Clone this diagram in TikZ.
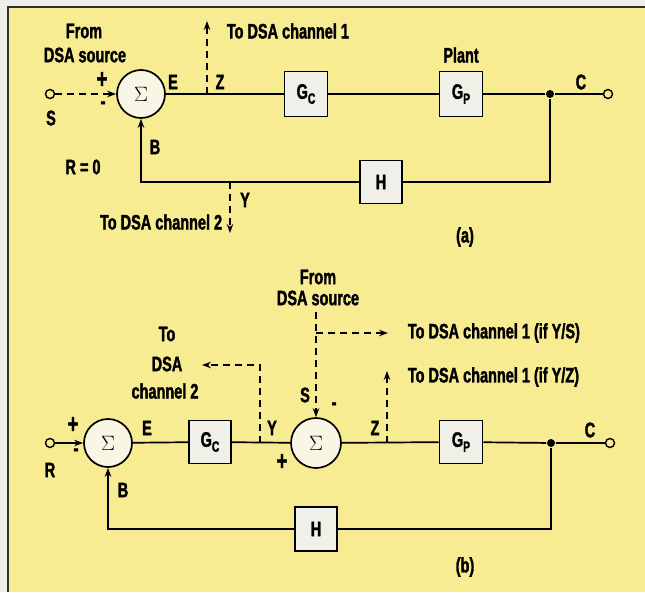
\documentclass[tikz,border=0pt]{standalone}
\usepackage{fontspec}
\setmainfont{Liberation Sans}[FakeStretch=0.69, BoldFeatures={FakeStretch=0.69, FakeBold=1.6}]
\usetikzlibrary{arrows.meta}
\definecolor{bgy}{RGB}{248,236,146}
\definecolor{paper}{RGB}{240,238,232}
\definecolor{boxf}{RGB}{240,240,232}
\definecolor{sumf}{RGB}{249,246,230}
\definecolor{frame}{RGB}{50,48,45}
\newcommand\subx[1]{\raisebox{-0.45ex}{\fontsize{15}{15}\selectfont #1}}
\newcommand\sig{{\fontsize{20}{20}\selectfont$\Sigma$}}
\newcommand\plus{{\fontsize{27}{27}\selectfont +}}
\begin{document}
\begin{tikzpicture}[x=1pt,y=-1pt,
  font=\fontsize{21}{21}\selectfont\bfseries,
  line width=1.7pt,
  sumnode/.style={circle, draw, fill=sumf, minimum size=48pt, inner sep=0pt},
  blk/.style={draw, fill=boxf, minimum width=43pt, minimum height=45pt, inner sep=0pt},
  term/.style={circle, draw, fill=bgy, minimum size=9pt, inner sep=0pt, line width=1.4pt},
  jdot/.style={circle, fill=black, minimum size=8pt, inner sep=0pt},
  lbl/.style={inner sep=0pt},
  dsh/.style={dash pattern=on 7pt off 5pt},
  arr/.style={-{Stealth[length=9pt,width=6.5pt]}}]
\useasboundingbox (0,0) rectangle (645,592);
\fill[paper] (0,0) rectangle (645,592);
\fill[bgy] (8,7) rectangle (645,592);
\draw[frame, line width=2pt] (8,592) -- (8,7) -- (645,7);

% ---------------- (a) ----------------
\node[term] (tS) at (50,94) {};
\node[sumnode] (sA) at (141,94) {\sig};
\node[blk] (GcA) at (306,94) {G\subx{C}};
\node[blk] (GpA) at (461,94) {G\subx{P}};
\node[jdot] (dA) at (550,94) {};
\node[term] (tC) at (608,94) {};
\node[blk, minimum width=42pt, minimum height=43pt] (HA) at (381,182) {H};
\coordinate (zA) at (207,94);
\coordinate (zAt) at (207,21);
\coordinate (yA) at (230,182);
\coordinate (yAt) at (230,233);

\draw[dsh,arr] (tS) -- (sA);
\draw (sA) -- (GcA) -- (GpA) -- (dA) -- (tC);
\draw[dsh,arr] (zA) -- (zAt);
\draw (dA) |- (HA);
\draw[arr] (HA) -| (sA);
\draw[dsh,arr] (yA) -- (yAt);

\node[lbl] (la1) at (84,31) {From};
\node[lbl] (la2) at (85,55) {DSA source};
\node[lbl] (la3) at (102,80) {\plus};
\node[lbl] (la4) at (103,105) {-};
\node[lbl] (la5) at (51,118) {S};
\node[lbl] (la6) at (173,82) {E};
\node[lbl] (la7) at (220,82) {Z};
\node[lbl, anchor=west] (la8) at (226,31) {To DSA channel 1};
\node[lbl] (la9) at (461,55) {Plant};
\node[lbl] (la10) at (581,82) {C};
\node[lbl] (la11) at (155,147) {B};
\node[lbl] (la12) at (83,167) {R = 0};
\node[lbl] (la13) at (245,200) {Y};
\node[lbl, anchor=east] (la14) at (223,222) {To DSA channel 2};
\node[lbl] (la15) at (465,237) {(a)};

% ---------------- (b) ----------------
\node[term] (tR) at (50,443) {};
\node[sumnode] (sB1) at (108,443) {\sig};
\node[blk, minimum width=42pt, minimum height=43pt] (GcB) at (210,442) {G\subx{C}};
\node[sumnode, minimum size=50pt] (sB2) at (316,443) {\sig};
\node[blk, minimum width=43pt, minimum height=43pt] (GpB) at (461,442) {G\subx{P}};
\node[jdot] (dB) at (551,443) {};
\node[term] (tCB) at (610,443) {};
\node[blk, minimum width=42pt, minimum height=44pt] (HB) at (316,529) {H};
\coordinate (yB) at (260,443);
\coordinate (yBt) at (202,365);
\coordinate (zB) at (387,443);
\coordinate (zBt) at (387,371);
\coordinate (srcB) at (316,312);
\coordinate (brB) at (316,333);
\coordinate (brBt) at (388,333);

\draw[arr] (tR) -- (sB1);
\draw (sB1) -- (GcB) -- (sB2) -- (GpB) -- (dB) -- (tCB);
\draw[dsh,arr] (yB) |- (yBt);
\draw[dsh,arr] (zB) -- (zBt);
\draw[dsh,arr] (srcB) -- (sB2);
\draw[dsh,arr] (brB) -- (brBt);
\draw (dB) |- (HB);
\draw[arr] (HB) -| (sB1);

\node[lbl] (lb1) at (318,277) {From};
\node[lbl] (lb2) at (318,298) {DSA source};
\node[lbl, anchor=west] (lb3) at (407,333) {To DSA channel 1 (if Y/S)};
\node[lbl, anchor=west] (lb4) at (407,377) {To DSA channel 1 (if Y/Z)};
\node[lbl] (lb5) at (167,334) {To};
\node[lbl] (lb6) at (167,364) {DSA};
\node[lbl] (lb7) at (165,391) {channel 2};
\node[lbl] (lb8) at (305,395) {S};
\node[lbl] (lb9) at (334,406) {-};
\node[lbl] (lb10) at (272,428) {Y};
\node[lbl] (lb11) at (282,462) {\plus};
\node[lbl] (lb12) at (375,428) {Z};
\node[lbl] (lb13) at (590,430) {C};
\node[lbl] (lb14) at (50,470) {R};
\node[lbl] (lb15) at (73,425) {\plus};
\node[lbl] (lb16) at (76,452) {-};
\node[lbl] (lb17) at (147,428) {E};
\node[lbl] (lb18) at (123,490) {B};
\node[lbl] (lb19) at (465,567) {(b)};
\end{tikzpicture}
\end{document}
